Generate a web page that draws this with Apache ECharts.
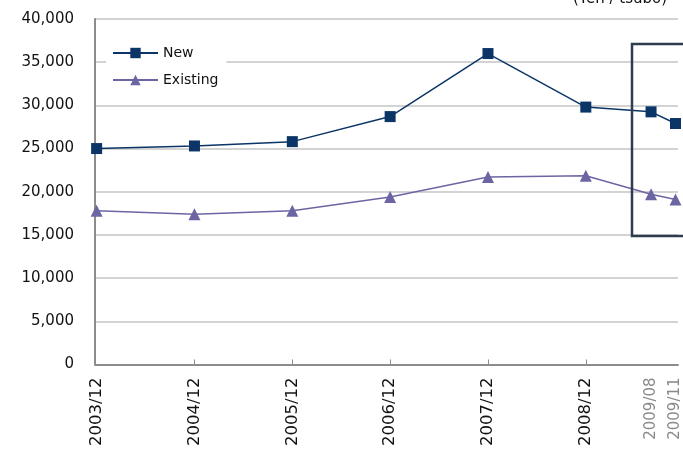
<!DOCTYPE html>
<html>
<head>
<meta charset="utf-8">
<script src="https://cdn.jsdelivr.net/npm/echarts@6/dist/echarts.min.js"></script>
<style>
  html, body { margin: 0; padding: 0; background: #fff; }
  #chart { width: 683px; height: 449px; }
</style>
</head>
<body>
<div id="chart"></div>
<script>
// Months elapsed since 2003/12 for each observation
const months = [0, 12, 24, 36, 48, 60, 68, 71];
const periodLabels = ['2003/12', '2004/12', '2005/12', '2006/12', '2007/12', '2008/12', '2009/08', '2009/11'];
const recentLabels = ['2009/08', '2009/11'];
// Average rent (Yen / tsubo)
const newValues = [25000, 25300, 25800, 28700, 36000, 29800, 29250, 27900];
const existingValues = [17800, 17400, 17800, 19400, 21700, 21850, 19700, 19100];

const FONT = '"DejaVu Sans", sans-serif';
const xMin = -0.2;  // small inset so the first point sits just off the value axis
const xMax = 71.3;  // the time axis runs on past the right edge of the frame

const chart = echarts.init(document.getElementById('chart'), null, { renderer: 'canvas' });

const labelByMonth = {};
months.forEach((m, i) => { labelByMonth[m] = periodLabels[i]; });

chart.setOption({
  animation: false,
  backgroundColor: '#ffffff',
  grid: { left: 95, top: 19, right: 0, height: 346, containLabel: false },
  legend: {
    left: 106,
    top: 41,
    orient: 'vertical',
    backgroundColor: '#ffffff',
    padding: [5, 8, 5, 6],
    itemWidth: 45,
    itemHeight: 13,
    itemGap: 13,
    textStyle: { fontFamily: FONT, fontSize: 14, color: '#111' },
    data: ['New', 'Existing']
  },
  xAxis: {
    type: 'value',
    min: xMin,
    max: xMax,
    splitLine: { show: false },
    axisLine: { onZero: false, lineStyle: { color: '#8c8c8c', width: 2 } },
    axisTick: {
      show: true,
      inside: true,
      length: 5,
      customValues: [12, 24, 36, 48, 60],
      lineStyle: { color: '#8c8c8c', width: 1 }
    },
    axisLabel: {
      customValues: months,
      rotate: 90,
      margin: 13,
      fontFamily: FONT,
      fontSize: 16.5,
      color: '#111',
      formatter: v => {
        const t = labelByMonth[v] || '';
        return recentLabels.includes(t) ? '{g|' + t + '}' : t;
      },
      rich: { g: { color: '#8a8a8a', fontFamily: FONT, fontSize: 15 } }
    }
  },
  yAxis: {
    type: 'value',
    min: 0,
    max: 40000,
    interval: 5000,
    axisLine: { show: true, onZero: false, lineStyle: { color: '#8c8c8c', width: 2 } },
    axisTick: { show: false },
    splitLine: { lineStyle: { color: '#c4c4c4', width: 1.5 } },
    axisLabel: {
      margin: 21,
      fontFamily: FONT,
      fontSize: 15,
      color: '#111',
      formatter: v => v.toLocaleString('en-US')
    }
  },
  graphic: [
    {
      type: 'text',
      left: 573,
      top: -8,
      style: { text: '(Yen / tsubo)', font: '15px ' + FONT, fill: '#111' }
    },
    {
      type: 'rect',
      z: 100,
      shape: { x: 632, y: 44, width: 120, height: 192 },
      style: { fill: 'none', stroke: '#2e3c4e', lineWidth: 2.5 }
    }
  ],
  series: [
    {
      name: 'New',
      type: 'line',
      data: months.map((m, i) => [m, newValues[i]]),
      symbol: 'rect',
      symbolSize: 11,
      lineStyle: { color: '#0b3567', width: 1.5 },
      itemStyle: { color: '#0b3567' },
      z: 3
    },
    {
      name: 'Existing',
      type: 'line',
      data: months.map((m, i) => [m, existingValues[i]]),
      symbol: 'triangle',
      symbolSize: 12,
      lineStyle: { color: '#6b66a3', width: 1.5 },
      itemStyle: { color: '#6b66a3' },
      z: 2
    }
  ]
});
</script>
</body>
</html>
